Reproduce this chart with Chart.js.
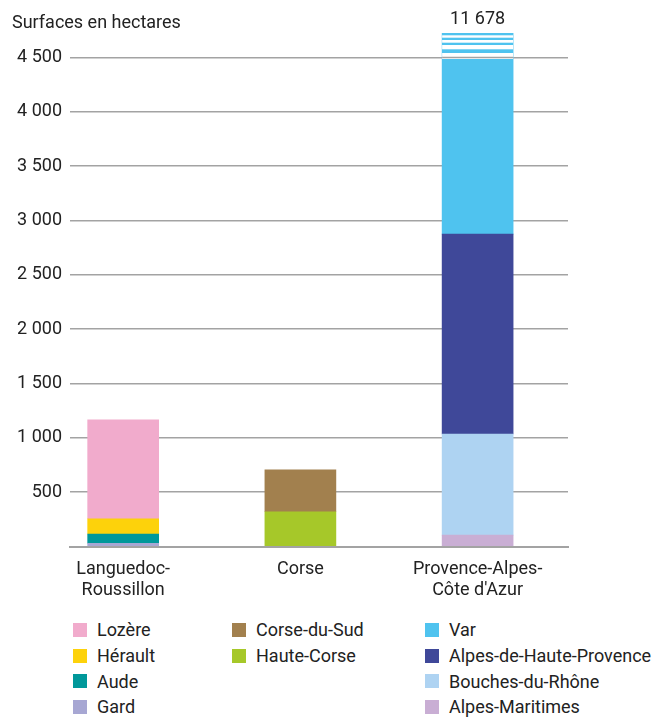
<!DOCTYPE html>
<html>
<head>
<meta charset="utf-8">
<script src="https://cdn.jsdelivr.net/npm/chart.js@4/dist/chart.umd.min.js"></script>
<style>
  body { margin: 0; background: #fff; font-family: Roboto, sans-serif; }
  #wrap { position: relative; width: 660px; height: 717px; }
  #legend { position: absolute; left: 0; top: 617px; width: 660px; }
  .col { position: absolute; top: 0; }
  .item { display: flex; align-items: center; height: 25.7px; font-size: 18px; color: #222; white-space: nowrap; }
  .box { width: 14px; height: 14px; margin-right: 10px; flex: none; }
</style>
</head>
<body>
<div id="wrap">
  <canvas id="chart" width="660" height="600"></canvas>
  <div id="legend"></div>
</div>
<script>
// données
const regions = [['Languedoc-', 'Roussillon'], ['Corse'], ['Provence-Alpes-', "Côte d'Azur"]];
const departments = ['Gard', 'Aude', 'Hérault', 'Lozère', 'Haute-Corse', 'Corse-du-Sud',
  'Alpes-Maritimes', 'Bouches-du-Rhône', 'Alpes-de-Haute-Provence', 'Var'];
const departmentRegion = [0, 0, 0, 0, 1, 1, 2, 2, 2, 2];
const surfaces = [30, 85, 140, 910, 320, 385, 105, 930, 1840, 8803];
const yTicks = [0, 500, 1000, 1500, 2000, 2500, 3000, 3500, 4000, 4500];
const axisBreak = 4500;

const colors = ['#a7a7d3', '#00989a', '#fdd20b', '#f1abcc', '#a6c829', '#a2804e',
  '#c9aed4', '#aed3f2', '#3f4899', '#4fc3ef'];
const legendLeft = [73, 232, 425];

const fmt = v => String(v).replace(/\B(?=(\d{3})+(?!\d))/g, ' ');

const datasets = departments.map((name, i) => ({
  label: name,
  data: [{ x: departmentRegion[i], y: surfaces[i] }],
  backgroundColor: colors[i],
  barThickness: 71,
  stack: 'all'
}));

// titre + total + coupure de l'axe
const extras = {
  id: 'extras',
  afterDatasetsDraw(chart) {
    const ctx = chart.ctx;
    const y = chart.scales.y;
    const area = chart.chartArea;
    ctx.save();
    ctx.fillStyle = '#222';
    ctx.font = '18px Roboto';
    ctx.textAlign = 'left';
    ctx.textBaseline = 'alphabetic';
    ctx.fillText('Surfaces en hectares', 12, 28);

    // barres coupées
    chart.data.datasets.forEach((ds, di) => {
      const meta = chart.getDatasetMeta(di);
      meta.data.forEach(bar => {
        if (bar.y >= area.top) return;
        const left = bar.x - bar.width / 2;
        ctx.fillStyle = '#fff';
        [[2.3, 2.4], [7, 2.7], [12, 4.3], [20, 6]].forEach(([o, h]) => {
          ctx.fillRect(left, area.top + o, bar.width, h);
        });
        const yb = y.getPixelForValue(axisBreak);
        ctx.strokeStyle = '#a3a3a3';
        ctx.lineWidth = 1.5;
        ctx.beginPath();
        ctx.moveTo(left, yb);
        ctx.lineTo(left + bar.width, yb);
        ctx.stroke();
      });
    });

    // totaux au-dessus des barres coupées
    regions.forEach((r, ri) => {
      const total = surfaces.reduce((s, v, i) => s + (departmentRegion[i] === ri ? v : 0), 0);
      if (total <= y.max) return;
      ctx.fillStyle = '#222';
      ctx.font = '18px Roboto';
      ctx.textAlign = 'center';
      ctx.fillText(fmt(total), chart.scales.x.getPixelForValue(ri), area.top - 9);
    });
    ctx.restore();
  }
};

const htmlLegend = {
  id: 'htmlLegend',
  afterUpdate(chart) {
    const box = document.getElementById('legend');
    box.innerHTML = '';
    const items = chart.options.plugins.legend.labels.generateLabels(chart);
    regions.forEach((r, ri) => {
      const col = document.createElement('div');
      col.className = 'col';
      col.style.left = legendLeft[ri] + 'px';
      items.filter(it => departmentRegion[it.datasetIndex] === ri).reverse().forEach(it => {
        const row = document.createElement('div');
        row.className = 'item';
        const sw = document.createElement('span');
        sw.className = 'box';
        sw.style.background = it.fillStyle;
        row.appendChild(sw);
        row.appendChild(document.createTextNode(it.text));
        col.appendChild(row);
      });
      box.appendChild(col);
    });
  }
};

new Chart(document.getElementById('chart'), {
  type: 'bar',
  data: { datasets },
  plugins: [extras, htmlLegend],
  options: {
    responsive: false,
    animation: false,
    layout: { padding: { left: 0, right: 92, top: 33, bottom: 0 } },
    plugins: { legend: { display: false }, tooltip: { enabled: false } },
    scales: {
      x: {
        type: 'linear',
        offset: false,
        min: -0.30,
        max: 2.51,
        stacked: true,
        afterBuildTicks: s => { s.ticks = regions.map((r, i) => ({ value: i })); },
        afterFit: s => { s.height = 53.5; },
        grid: { display: false },
        border: { color: '#a3a3a3', width: 2 },
        ticks: {
          callback: v => regions[v],
          color: '#222',
          font: { family: 'Roboto', size: 18 },
          padding: 4,
          maxRotation: 0,
          autoSkip: false
        }
      },
      y: {
        stacked: true,
        min: 0,
        max: 4725,
        afterBuildTicks: s => { s.ticks = yTicks.map(v => ({ value: v })); },
        afterFit: s => { s.width = 70; },
        grid: { color: '#a3a3a3', lineWidth: 1.5, drawTicks: false },
        border: { display: false },
        ticks: {
          callback: v => v === 0 ? '' : fmt(v),
          color: '#222',
          font: { family: 'Roboto', size: 18 },
          padding: 8
        }
      }
    }
  }
});
</script>
</body>
</html>
